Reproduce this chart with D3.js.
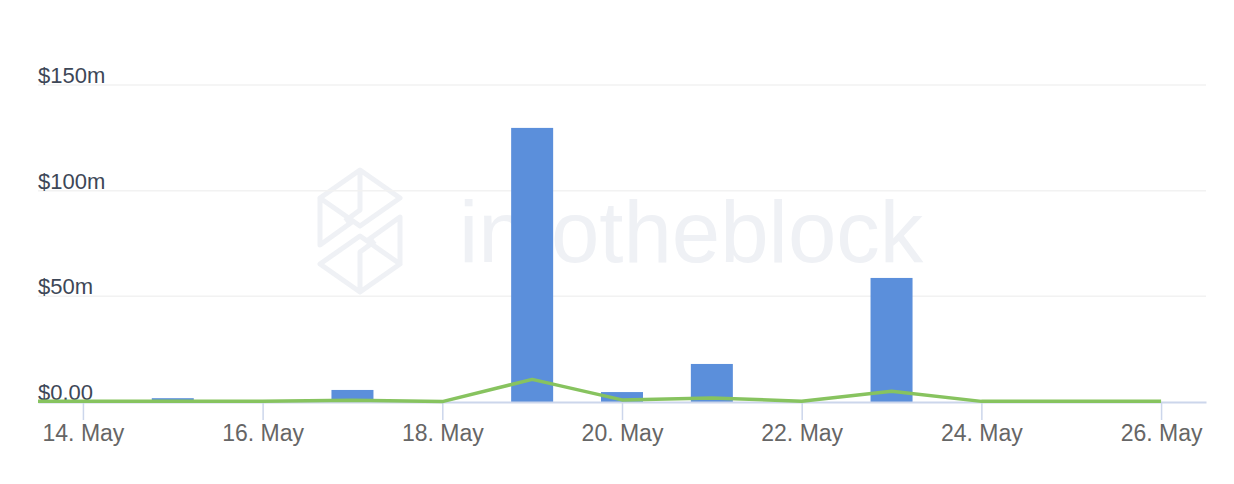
<!DOCTYPE html>
<html>
<head>
<meta charset="utf-8">
<script src="https://cdn.jsdelivr.net/npm/d3@7"></script>
<style>
  html, body { margin: 0; padding: 0; background: #fff; }
  svg { display: block; font-family: "Liberation Sans", Arial, Helvetica, sans-serif; }
</style>
</head>
<body>
<svg id="chart" width="1234" height="484"></svg>
<script>
// ---- data ----
const barDates = ["2021-05-14","2021-05-15","2021-05-16","2021-05-17","2021-05-18","2021-05-19","2021-05-20","2021-05-21","2021-05-22","2021-05-23","2021-05-24","2021-05-25","2021-05-26"];
const barValues = [0, 1.8, 0, 5.7, 0, 129.7, 4.7, 18.0, 0, 58.7, 0, 0, 0]; // $m
const lineDates = ["2021-05-13","2021-05-14","2021-05-15","2021-05-16","2021-05-17","2021-05-18","2021-05-19","2021-05-20","2021-05-21","2021-05-22","2021-05-23","2021-05-24","2021-05-25","2021-05-26"];
const lineValues = [0.3, 0.3, 0.3, 0.3, 0.8, 0.2, 10.7, 1.0, 1.9, 0.4, 5.1, 0.3, 0.3, 0.3]; // $m
const yTicks = [0, 50, 100, 150];
const yTickLabels = ["$0.00", "$50m", "$100m", "$150m"];
const xTickDates = ["2021-05-14","2021-05-16","2021-05-18","2021-05-20","2021-05-22","2021-05-24","2021-05-26"];

// ---- layout ----
const svg = d3.select("#chart");
const mLeft = 38, mRight = 1206, mTop = 85, mBottom = 402;
const parse = d3.utcParse("%Y-%m-%d");
const DAY = 864e5;

const x = d3.scaleUtc()
  .domain([new Date(+parse("2021-05-14") - DAY / 2), new Date(+parse("2021-05-26") + DAY / 2)])
  .range([mLeft, mRight]);
const y = d3.scaleLinear().domain([0, 150]).range([mBottom, mTop]);

// watermark
const wm = svg.append("g").attr("fill", "none").attr("stroke", "#eff1f5").attr("stroke-width", 5).attr("stroke-linejoin", "round");
wm.append("path").attr("d", "M360,170 L400,198 L360,226 L320,198 Z M360,170 L360,210 L345,221 M320,198 L320,245 L352,222");
wm.append("path").attr("d", "M360,292 L400,264 L360,236 L320,264 Z M360,292 L360,252 L375,241 M400,264 L400,217 L368,240");
svg.append("text")
  .attr("x", 459).attr("y", 262)
  .attr("font-size", 87).attr("font-weight", 500)
  .attr("fill", "#eff1f5")
  .text("intotheblock");

// gridlines
svg.append("g").selectAll("line")
  .data(yTicks.filter(d => d > 0))
  .join("line")
  .attr("x1", mLeft).attr("x2", mRight)
  .attr("y1", d => y(d)).attr("y2", d => y(d))
  .attr("stroke", "#f2f2f2").attr("stroke-width", 1.5);

// y labels
svg.append("g").selectAll("text")
  .data(yTicks)
  .join("text")
  .attr("x", mLeft)
  .attr("y", d => y(d) - 2)
  .attr("font-size", 22)
  .attr("fill", "#3d4757")
  .text((d, i) => yTickLabels[i]);

// bars
const barW = 42;
svg.append("g").selectAll("rect")
  .data(barDates.map((d, i) => ({ date: parse(d), v: barValues[i] })).filter(d => d.v > 0))
  .join("rect")
  .attr("x", d => x(d.date) - barW / 2)
  .attr("width", barW)
  .attr("y", d => y(d.v))
  .attr("height", d => y(0) - y(d.v))
  .attr("fill", "#5b8fdb");

// x axis
const xAxis = d3.axisBottom(x)
  .tickValues(xTickDates.map(parse))
  .tickFormat(d3.utcFormat("%-d. %b"))
  .tickSize(18)
  .tickSizeOuter(0)
  .tickPadding(5);
const gx = svg.append("g").attr("transform", `translate(0,${mBottom})`).call(xAxis);
gx.select(".domain").attr("stroke", "#ccd6eb").attr("stroke-width", 2);
gx.selectAll(".tick line").attr("stroke", "#ccd6eb").attr("stroke-width", 1.5);
gx.selectAll(".tick text").attr("fill", "#666").attr("font-size", 23).attr("font-family", "'Liberation Sans', Arial, sans-serif");

// line
svg.append("clipPath").attr("id", "clip")
  .append("rect").attr("x", mLeft).attr("y", 0).attr("width", mRight - mLeft).attr("height", mBottom + 3);
const line = d3.line().x(d => x(d.date)).y(d => y(d.v));
svg.append("path")
  .datum(lineDates.map((d, i) => ({ date: parse(d), v: lineValues[i] })))
  .attr("clip-path", "url(#clip)")
  .attr("d", line)
  .attr("fill", "none")
  .attr("stroke", "#87c35f")
  .attr("stroke-width", 3.5)
  .attr("stroke-linejoin", "round");
</script>
</body>
</html>
